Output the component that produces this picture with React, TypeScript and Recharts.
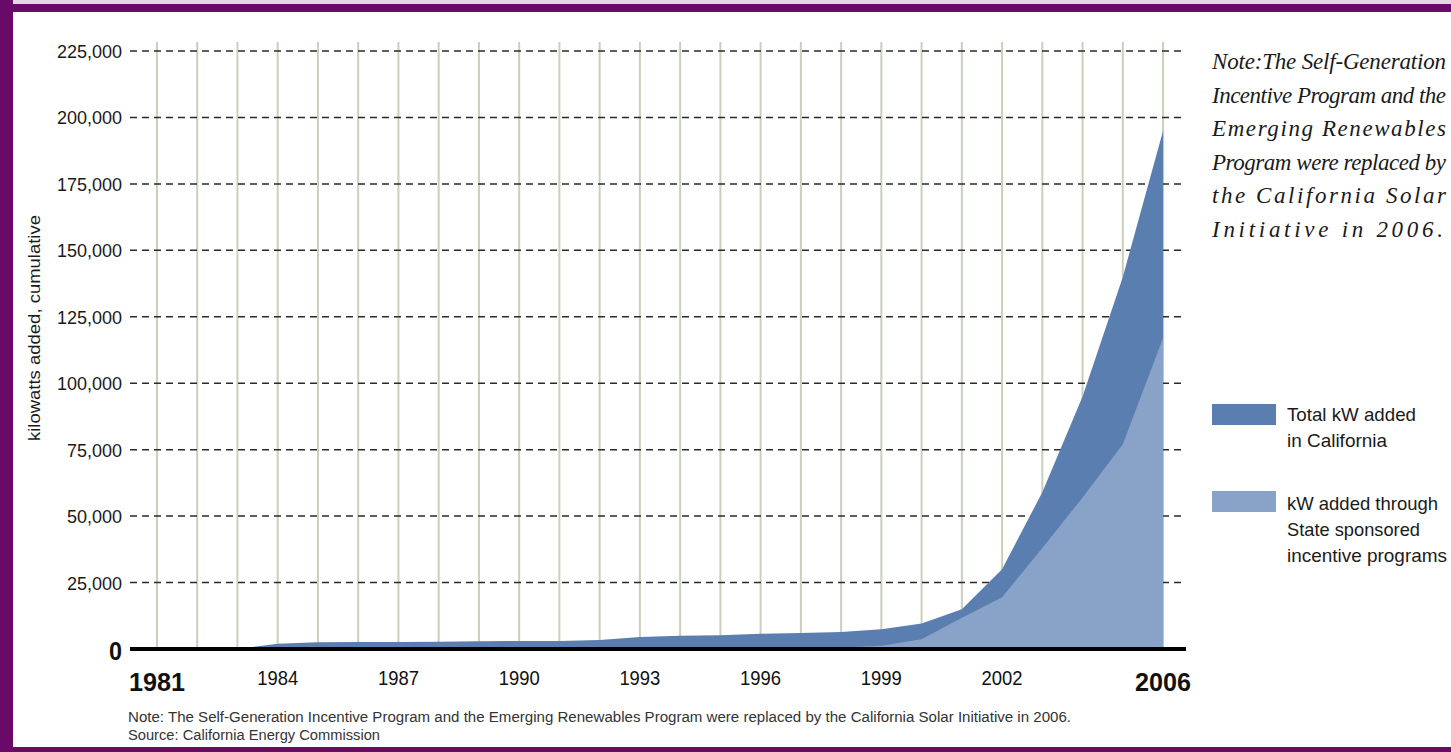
import React from 'react';
import {
  AreaChart,
  Area,
  XAxis,
  YAxis,
  CartesianGrid,
  ReferenceLine,
  Legend
} from 'recharts';

const years = [
  1981, 1982, 1983, 1984, 1985, 1986, 1987, 1988, 1989, 1990, 1991, 1992, 1993,
  1994, 1995, 1996, 1997, 1998, 1999, 2000, 2001, 2002, 2003, 2004, 2005, 2006,
];

// total kW added in California, cumulative
const totalKw = [
  0, 0, 0, 2000, 2500, 2600, 2600, 2700, 2900, 3000, 3000, 3400, 4500,
  5000, 5200, 5700, 6000, 6400, 7400, 9600, 15000, 30000, 59000, 95000, 140000, 195000,
];

// kW added through state sponsored incentive programs, cumulative
const stateKw = [
  0, 0, 0, 0, 0, 0, 0, 0, 0, 0, 0, 0, 0,
  0, 0, 0, 0, 500, 1200, 3700, 11800, 19500, 38000, 57000, 77000, 117000,
];

const yTicks = [0, 25000, 50000, 75000, 100000, 125000, 150000, 175000, 200000, 225000];
const xLabels = [1981, 1984, 1987, 1990, 1993, 1996, 1999, 2002, 2006];
const boldYears = [1981, 2006];

const sideNote = [
  'Note:The Self-Generation',
  'Incentive Program and the',
  'Emerging Renewables',
  'Program were replaced by',
  'the California Solar',
  'Initiative in 2006.',
];

const footNote =
  'Note: The Self-Generation Incentive Program and the Emerging Renewables Program were replaced by the California Solar Initiative in 2006.';
const source = 'Source: California Energy Commission';

const data = years.map((year, i) => ({ year, total: totalKw[i], state: stateKw[i] }));

const X_DOMAIN = [1980.33, 2006.57];
const Y_MAX = 228400;

const DARK = '#5a7eaf';
const LIGHT = '#89a2c8';
const PURPLE = '#690a68';
const SANS = "'Liberation Sans', Arial, sans-serif";
const SERIF = "'Liberation Serif', 'Times New Roman', serif";

// grid lines only at the real ticks (no extra lines on the plot edges)
const vGrid = (props: any) => {
  const s = props.xAxis && props.xAxis.scale;
  return years.map((yr) =>
    typeof s === 'function'
      ? s(yr)
      : props.offset.left + (props.offset.width * (yr - X_DOMAIN[0])) / (X_DOMAIN[1] - X_DOMAIN[0])
  );
};

const hGrid = (props: any) => {
  const s = props.yAxis && props.yAxis.scale;
  return yTicks
    .filter((t) => t > 0)
    .map((t) => (typeof s === 'function' ? s(t) : props.offset.top + props.offset.height * (1 - t / Y_MAX)));
};

const XTick = (props: any) => {
  const { x, y, payload } = props;
  const v = payload.value;
  if (!xLabels.includes(v)) return <g />;
  const bold = boldYears.includes(v);
  return (
    <text
      x={x}
      y={y + (bold ? 42 : 36)}
      textAnchor="middle"
      fontFamily={SANS}
      fontSize={bold ? 26 : 20}
      fontWeight={bold ? 700 : 400}
      fill="#111"
      textLength={bold ? 56 : 41}
      lengthAdjust="spacingAndGlyphs"
    >
      {v}
    </text>
  );
};

const YTick = (props: any) => {
  const { x, y, payload } = props;
  const v = payload.value;
  if (v === 0) {
    return (
      <text x={x} y={y + 11} textAnchor="end" fontFamily={SANS} fontSize={26} fontWeight={700} fill="#111"
        textLength={13} lengthAdjust="spacingAndGlyphs">
        0
      </text>
    );
  }
  return (
    <text x={x} y={y + 7} textAnchor="end" fontFamily={SANS} fontSize={18} fill="#1a1a1a">
      {v.toLocaleString('en-US')}
    </text>
  );
};

const legendText = (x: number, y: number, s: string, w: number) => (
  <text x={x} y={y} fontFamily={SANS} fontSize={19} fill="#1a1a1a" textLength={w} lengthAdjust="spacingAndGlyphs">
    {s}
  </text>
);

const LegendBox = () => (
  <svg width={238} height={170} style={{ overflow: 'visible' }}>
    <rect x={0} y={4} width={64} height={21} fill={DARK} />
    {legendText(75, 21, 'Total kW added', 129)}
    {legendText(75, 47, 'in California', 100)}
    <rect x={0} y={91} width={64} height={21} fill={LIGHT} />
    {legendText(75, 110, 'kW added through', 151)}
    {legendText(75, 136, 'State sponsored', 133)}
    {legendText(75, 162, 'incentive programs', 160)}
  </svg>
);

const App: React.FC = () => {
  return (
    <div style={{ position: 'absolute', left: 0, top: 0, width: 1451, height: 752, background: '#fff', overflow: 'hidden' }}>
      <AreaChart
        width={1451}
        height={752}
        data={data}
        margin={{ top: 42, right: 265, bottom: 63, left: 0 }}
      >
        <CartesianGrid horizontal={false} stroke="#c8d0bc" strokeWidth={2} verticalCoordinatesGenerator={vGrid} />
        <CartesianGrid
          vertical={false}
          stroke="#2a2a2a"
          strokeWidth={1.5}
          strokeDasharray="7 5"
          horizontalCoordinatesGenerator={hGrid}
        />
        <XAxis
          dataKey="year"
          type="number"
          domain={X_DOMAIN}
          allowDataOverflow
          ticks={years}
          interval={0}
          axisLine={false}
          tickLine={false}
          tickSize={0}
          tickMargin={0}
          height={40}
          tick={<XTick />}
        />
        <YAxis
          type="number"
          domain={[0, Y_MAX]}
          allowDataOverflow
          ticks={yTicks}
          interval={0}
          axisLine={false}
          tickLine={false}
          tickSize={0}
          tickMargin={8}
          width={130}
          tick={<YTick />}
        />
        <Area
          type="linear"
          dataKey="total"
          stroke="none"
          fill={DARK}
          fillOpacity={1}
          dot={false}
          activeDot={false}
          isAnimationActive={false}
        />
        <Area
          type="linear"
          dataKey="state"
          stroke="none"
          fill={LIGHT}
          fillOpacity={1}
          dot={false}
          activeDot={false}
          isAnimationActive={false}
        />
        <ReferenceLine y={0} stroke="#000" strokeWidth={4} />
        <Legend
          layout="horizontal"
          verticalAlign="middle"
          align="center"
          content={<LegendBox />}
          wrapperStyle={{ position: 'absolute', left: 1212, top: 400, width: 238, height: 170 }}
        />
      </AreaChart>

      <svg width={1451} height={752} style={{ position: 'absolute', left: 0, top: 0, pointerEvents: 'none' }}>
        <rect x={0} y={0} width={1451} height={4} fill="#e4d8e4" />
        <rect x={0} y={4} width={1451} height={8} fill={PURPLE} />
        <rect x={0} y={0} width={13} height={752} fill={PURPLE} />
        <rect x={0} y={747} width={1451} height={5} fill={PURPLE} />

        <text
          transform="translate(40,328) rotate(-90)"
          textAnchor="middle"
          fontFamily={SANS}
          fontSize={17}
          fill="#1a1a1a"
          textLength={226}
          lengthAdjust="spacingAndGlyphs"
        >
          kilowatts added, cumulative
        </text>

        <text x={128} y={722} fontFamily={SANS} fontSize={14} fill="#333" textLength={943} lengthAdjust="spacingAndGlyphs">
          {footNote}
        </text>
        <text x={128} y={740} fontFamily={SANS} fontSize={14} fill="#333" textLength={252} lengthAdjust="spacingAndGlyphs">
          {source}
        </text>

        {sideNote.map((line, i) => (
          <text
            key={line}
            x={1212}
            y={69 + i * 33.5}
            fontFamily={SERIF}
            fontStyle="italic"
            fontSize={23}
            fill="#1a1a1a"
            textLength={i === sideNote.length - 1 ? 231 : 234}
            lengthAdjust="spacing"
          >
            {line}
          </text>
        ))}
      </svg>
    </div>
  );
};

export default App;
